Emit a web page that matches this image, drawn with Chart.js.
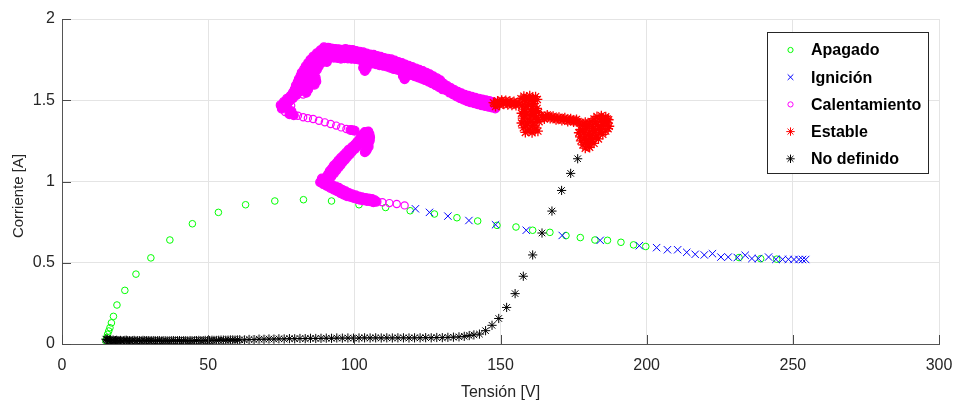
<!DOCTYPE html>
<html>
<head>
<meta charset="utf-8">
<script src="https://cdn.jsdelivr.net/npm/chart.js@4.4.1/dist/chart.umd.min.js"></script>
<style>
  html, body { margin: 0; padding: 0; background: #ffffff; }
  canvas { display: block; }
</style>
</head>
<body>
<canvas id="c" width="955" height="403"></canvas>
<script>
// Axis ticks
const xTickValues = [0, 50, 100, 150, 200, 250, 300];
const yTickValues = [0, 0.5, 1, 1.5, 2];

// Series: [tension V, corriente A]
const apagado = [
  [15.0,0.020],[15.3,0.040],[15.6,0.060],[16.0,0.080],[16.4,0.100],[16.9,0.130],[17.6,0.170],
  [18.8,0.240],[21.5,0.330],[25.3,0.430],[30.4,0.530],[36.9,0.640],[44.6,0.740],[53.5,0.810],
  [62.8,0.857],[72.8,0.880],[82.6,0.888],[92.2,0.880],[101.6,0.857],[110.7,0.840],[119.1,0.820],
  [127.4,0.800],[135.1,0.777],[142.2,0.757],[148.8,0.730],[155.3,0.720],[161.0,0.700],[166.9,0.687],
  [172.4,0.667],[177.3,0.655],[182.3,0.640],[186.6,0.638],[191.2,0.626],[195.5,0.610],[199.7,0.600],
  [231.6,0.532],[239.0,0.525],[244.5,0.522]
];

const ignicion = [
  [120.9,0.832],[125.7,0.810],[132.0,0.787],[139.2,0.760],[148.3,0.734],[158.8,0.700],[171.1,0.668],
  [184.1,0.638],[197.5,0.605],[203.4,0.593],[207.1,0.580],[210.6,0.580],[213.7,0.564],[216.6,0.552],
  [219.7,0.548],[222.5,0.556],[225.4,0.535],[227.9,0.535],[231.0,0.532],[233.7,0.546],[236.0,0.526],
  [238.2,0.526],[241.7,0.535],[244.2,0.521],[246.5,0.521],[248.5,0.521],[250.4,0.520],[252.1,0.520],
  [253.3,0.520],[254.4,0.520]
];

const calentamiento = [
  // descending branch, low current
  [117.2,0.853],[114.5,0.862],[112.0,0.867],[109.6,0.872],[107.6,0.876],
  [107.0,0.884],[106.5,0.872],[106.0,0.893],[105.4,0.878],[104.9,0.896],[104.3,0.880],[103.8,0.899],
  [103.2,0.884],[102.6,0.903],[102.1,0.887],[101.5,0.908],[100.9,0.893],[100.4,0.915],[99.8,0.898],
  [99.2,0.921],[98.7,0.905],[98.1,0.930],[97.5,0.910],[97.0,0.940],[96.4,0.918],[95.8,0.950],
  [95.3,0.928],[94.7,0.962],[94.1,0.940],[93.6,0.970],[93.0,0.950],[92.4,0.978],[91.8,0.960],
  [91.2,0.988],[90.6,0.972],[90.0,0.997],[89.4,0.983],[88.8,1.005],[88.3,0.995],[88.9,1.018],[89.6,1.010],
  // rising segment
  [90.2,1.025],[92.1,1.030],[91.0,1.045],[93.0,1.050],[91.6,1.065],[93.8,1.068],[92.4,1.082],
  [94.6,1.086],[93.0,1.098],[95.3,1.102],[93.9,1.114],[96.0,1.118],[94.6,1.130],[96.8,1.134],
  [95.4,1.146],[97.5,1.150],[96.3,1.162],[98.4,1.166],[97.2,1.178],[99.2,1.184],[98.1,1.196],
  [100.2,1.200],[99.2,1.212],[101.2,1.218],[100.2,1.228],[102.2,1.234],[101.0,1.245],[103.0,1.250],
  [101.8,1.262],[103.6,1.266],[102.4,1.278],[104.1,1.280],[103.0,1.292],[104.5,1.294],[103.6,1.305],
  [104.8,1.308],[105.2,1.290],[105.4,1.272],[105.3,1.252],[104.9,1.234],[104.9,1.214],[104.3,1.196],
  [103.6,1.180],[104.0,1.188],
  // fast jump
  [100.1,1.313],[99.5,1.315],[98.7,1.317],[97.3,1.323],[95.5,1.333],[93.8,1.344],[91.9,1.354],
  [89.9,1.364],[87.9,1.374],[85.9,1.385],[84.1,1.390],[82.5,1.395],[80.7,1.405],
  // upper-left cluster
  [79.3,1.408],[77.8,1.414],[76.3,1.428],[78.5,1.432],[75.2,1.448],[77.2,1.452],[74.8,1.470],
  [76.8,1.474],[78.4,1.466],[75.9,1.490],[77.8,1.494],[77.0,1.510],[79.0,1.512],[78.2,1.528],
  [80.2,1.532],[82.5,1.535],[79.0,1.548],[81.2,1.552],[83.6,1.546],[79.6,1.568],[81.8,1.572],
  [84.2,1.566],[80.0,1.590],[82.2,1.594],[84.8,1.588],[86.4,1.596],[80.6,1.610],[82.8,1.614],
  [85.2,1.608],[87.0,1.616],[81.0,1.630],[83.2,1.634],[85.6,1.628],[86.8,1.638],[81.6,1.650],
  [83.8,1.654],[86.0,1.648],[82.0,1.670],[84.2,1.674],[86.4,1.668],[82.8,1.690],[85.0,1.694],
  [87.2,1.688],[83.4,1.710],[85.6,1.714],[87.8,1.708],[84.2,1.730],[86.4,1.734],[88.6,1.728],
  [90.6,1.735],[85.0,1.750],[87.2,1.754],[89.4,1.748],[91.2,1.756],[86.0,1.770],[88.2,1.774],
  [90.4,1.768],[92.2,1.776],[87.2,1.790],[89.2,1.794],[91.2,1.788],[88.4,1.808],[90.2,1.814],
  [89.6,1.826],[91.2,1.822],
  // upper branch towards steady state
  [91.0,1.823],[91.4,1.795],[91.8,1.767],[92.2,1.818],[92.6,1.792],[93.0,1.762],
  [93.4,1.816],[93.8,1.786],[94.2,1.760],[94.6,1.814],[95.0,1.788],[95.4,1.756],
  [95.8,1.811],[96.2,1.785],[96.6,1.759],[97.0,1.815],[97.4,1.783],[97.8,1.757],
  [98.2,1.811],[98.6,1.787],[99.0,1.755],[99.4,1.810],[99.8,1.780],[100.2,1.754],
  [100.6,1.803],[101.0,1.777],[101.4,1.751],[101.8,1.799],[102.2,1.769],[102.6,1.743],
  [103.0,1.795],[103.4,1.765],[103.8,1.735],[104.2,1.787],[104.6,1.761],[105.0,1.731],
  [103.0,1.700],[103.6,1.680],[104.2,1.695],[103.3,1.720],[104.6,1.716],
  [105.4,1.782],[105.8,1.752],[106.2,1.726],[106.6,1.780],[107.0,1.750],[107.4,1.722],
  [107.8,1.772],[108.2,1.746],[108.6,1.716],[109.0,1.768],[109.4,1.742],[109.8,1.712],
  [110.2,1.760],[110.6,1.734],[111.0,1.708],[111.4,1.756],[111.8,1.726],[112.2,1.700],
  [112.6,1.752],[113.0,1.722],[113.4,1.692],[113.8,1.744],[114.2,1.718],[114.6,1.688],
  [115.0,1.736],[115.4,1.706],[115.8,1.680],[116.2,1.730],[116.6,1.700],[117.0,1.672],
  [116.6,1.650],[117.2,1.630],[117.8,1.645],[117.0,1.665],[118.2,1.662],
  [117.4,1.720],[117.8,1.694],[118.2,1.664],[118.6,1.712],[119.0,1.682],[119.4,1.656],
  [119.8,1.704],[120.2,1.678],[120.6,1.648],[121.0,1.696],[121.4,1.666],[121.8,1.640],
  [122.2,1.688],[122.6,1.662],[123.0,1.632],[123.4,1.680],[123.8,1.650],[124.2,1.624],
  [124.6,1.670],[125.0,1.644],[125.4,1.614],[125.8,1.660],[126.2,1.630],[126.6,1.604],
  [127.0,1.648],[127.4,1.622],[127.8,1.592],[128.2,1.636],[128.6,1.606],[129.0,1.580],
  [129.4,1.623],[129.8,1.597],[130.2,1.567],[130.6,1.601],[131.0,1.579],[131.4,1.561],
  [131.8,1.587],[132.2,1.569],[132.6,1.547],[133.0,1.575],[133.4,1.553],[133.8,1.535],
  [134.2,1.563],[134.6,1.545],[135.0,1.523],[135.4,1.552],[135.8,1.530],[136.2,1.512],
  [136.6,1.543],[137.0,1.525],[137.4,1.503],[137.8,1.534],[138.2,1.512],[138.6,1.494],
  [139.0,1.527],[139.4,1.509],[139.8,1.487],[140.2,1.521],[140.6,1.499],[141.0,1.481],
  [141.4,1.515],[141.8,1.497],[142.2,1.475],[142.6,1.510],[143.0,1.488],[143.4,1.470],
  [143.8,1.505],[144.2,1.487],[144.6,1.465],[145.0,1.500],[145.4,1.478],[145.8,1.460],
  [146.2,1.495],[146.6,1.477],[147.0,1.455],[147.4,1.490],[147.8,1.468],[148.2,1.450]
];

const estable = [
  [147.6,1.485],[148.0,1.478],[148.3,1.462],[149.0,1.495],[149.4,1.482],[149.7,1.470],[150.4,1.500],
  [150.8,1.488],[151.1,1.475],[151.8,1.498],[152.2,1.485],[152.5,1.472],[153.2,1.496],[153.6,1.483],
  [153.9,1.470],[154.6,1.492],[155.0,1.480],[155.3,1.468],[156.0,1.488],[156.4,1.475],
  [157.0,1.510],[158.0,1.525],[158.2,1.505],[159.0,1.518],[159.6,1.508],[160.0,1.528],[161.0,1.512],
  [161.2,1.495],[162.0,1.522],[162.6,1.505],[158.5,1.495],[160.5,1.500],[157.5,1.470],[159.5,1.475],
  [161.5,1.480],[158.8,1.460],[161.0,1.462],[157.8,1.445],[160.2,1.440],[162.5,1.450],[158.4,1.432],
  [160.6,1.428],[162.0,1.438],[157.2,1.420],[159.0,1.415],[161.2,1.418],[163.0,1.425],[158.2,1.402],
  [160.8,1.405],[157.6,1.390],[159.8,1.385],[162.0,1.392],[158.4,1.372],[160.4,1.370],[162.6,1.380],
  [157.2,1.360],[159.3,1.355],[161.5,1.362],[163.2,1.368],[158.6,1.342],[161.0,1.345],[157.8,1.330],
  [160.0,1.322],[162.2,1.330],[159.4,1.312],[161.8,1.318],[158.5,1.302],[160.8,1.300],[162.8,1.310],
  [164.0,1.405],[164.5,1.395],[165.0,1.385],[165.5,1.400],[166.0,1.410],[166.5,1.398],[167.0,1.388],
  [167.5,1.395],[168.0,1.402],[168.5,1.390],[169.0,1.380],[169.5,1.388],[170.0,1.396],[170.5,1.386],
  [171.0,1.375],[171.5,1.384],[172.0,1.392],[172.5,1.380],[173.0,1.370],[173.5,1.378],[174.0,1.386],
  [174.5,1.376],[175.0,1.366],[175.5,1.374],[176.0,1.382],[176.5,1.370],
  [177.0,1.360],[178.0,1.345],[178.5,1.355],[179.0,1.365],[180.0,1.350],[180.5,1.360],[181.0,1.370],
  [182.0,1.385],[182.5,1.365],[183.0,1.400],[184.5,1.405],[184.5,1.385],[186.0,1.398],[186.5,1.385],
  [187.0,1.380],[185.5,1.380],[185.5,1.365],[184.0,1.370],[186.5,1.360],[187.2,1.340],[186.8,1.325],
  [185.0,1.345],[183.5,1.338],[183.0,1.350],[181.5,1.340],[181.5,1.325],[179.5,1.340],[179.5,1.325],
  [177.5,1.320],[178.0,1.312],[176.8,1.300],[178.5,1.300],[180.5,1.305],[182.5,1.315],[184.5,1.320],
  [186.0,1.310],[184.0,1.302],[182.0,1.298],[180.0,1.290],[185.0,1.290],[183.0,1.285],[181.0,1.280],
  [179.0,1.275],[177.2,1.275],[182.6,1.272],[180.6,1.268],[178.6,1.262],[177.5,1.250],[179.5,1.255],
  [181.5,1.258],[183.5,1.262],[182.0,1.235],[181.0,1.245],[179.2,1.240],[180.0,1.230],[178.2,1.225],
  [180.2,1.218],[179.0,1.205],[180.5,1.210]
];

const noDefinido = [
  [15.0,0.030],[15.3,0.025],[15.5,0.028],[15.7,0.020],[16.2,0.022],[16.5,0.025],[16.8,0.020],
  [17.1,0.022],[17.5,0.024],[17.9,0.020],[18.3,0.021],[18.7,0.023],[19.1,0.020],[19.5,0.021],
  [20.0,0.022],[20.5,0.019],[21.0,0.020],[21.5,0.022],[22.0,0.023],[22.5,0.021],[23.1,0.020],
  [23.6,0.019],[24.2,0.021],[24.7,0.022],[25.3,0.019],[25.9,0.021],[26.5,0.020],[27.1,0.019],
  [27.7,0.022],[28.3,0.021],[28.9,0.020],[29.5,0.021],[30.1,0.019],[30.7,0.020],[31.4,0.021],
  [32.0,0.019],[32.7,0.020],[33.3,0.021],[34.0,0.018],[34.6,0.020],[35.3,0.020],[36.0,0.019],
  [36.7,0.019],[37.4,0.020],[38.1,0.021],[38.8,0.019],[39.5,0.020],[40.2,0.021],[40.9,0.018],
  [41.6,0.020],[42.3,0.020],[43.0,0.019],[43.8,0.021],[44.5,0.020],[45.3,0.020],[46.0,0.021],
  [46.8,0.022],[47.5,0.020],[48.3,0.021],[49.0,0.022],[49.8,0.020],[50.5,0.021],[51.3,0.023],
  [52.0,0.022],[52.8,0.022],[53.6,0.023],[54.4,0.024],[55.2,0.024],[56.0,0.023],[56.8,0.024],
  [57.6,0.025],[58.4,0.025],[59.2,0.024],[60.0,0.025],[60.8,0.026],[62.4,0.025],[64.0,0.028],
  [65.7,0.027],[67.4,0.030],[69.1,0.029],[70.8,0.031],[72.5,0.030],[74.2,0.032],[76.0,0.031],
  [77.8,0.033],[79.6,0.032],[81.4,0.034],[83.2,0.033],[85.0,0.035],[86.8,0.034],[88.6,0.035],
  [90.4,0.036],[92.2,0.035],[94.0,0.037],[95.9,0.036],[97.8,0.037],[99.7,0.036],[101.6,0.037],
  [103.5,0.038],[105.4,0.037],[107.3,0.038],[109.2,0.037],[111.1,0.038],[113.0,0.037],[114.9,0.038],
  [116.8,0.038],[118.7,0.037],[120.6,0.038],[122.5,0.038],[124.4,0.039],[126.3,0.038],[128.2,0.040],
  [130.1,0.039],[132.0,0.041],[133.9,0.042],[135.8,0.044],[137.6,0.047],[139.3,0.052],[140.9,0.056],
  [142.8,0.061],[144.9,0.082],[147.1,0.115],[149.4,0.157],[152.1,0.225],[155.0,0.310],[157.8,0.417],
  [161.0,0.548],[164.2,0.683],[167.6,0.818],[170.9,0.945],[174.0,1.050],[176.4,1.140]
];

const seriesLabels = ['Apagado', 'Ignición', 'Calentamiento', 'Estable', 'No definido'];

const FONT = '"Liberation Sans", Arial, Helvetica, sans-serif';
const toXY = pts => pts.map(p => ({ x: p[0], y: p[1] }));

const styles = [
  { color: '#00ff00', pointStyle: 'circle',   radius: 3.3, width: 1,   legendRadius: 2.6 },
  { color: '#0000ff', pointStyle: 'crossRot', radius: 5.2, width: 1,   legendRadius: 4.0 },
  { color: '#ff00ff', pointStyle: 'circle',   radius: 3.6, width: 1.2, legendRadius: 2.6 },
  { color: '#ff0000', pointStyle: 'star',     radius: 5.0, width: 1.3, legendRadius: 4.2 },
  { color: '#000000', pointStyle: 'star',     radius: 4.6, width: 1,   legendRadius: 4.2 }
];

const allSeries = [apagado, ignicion, calentamiento, estable, noDefinido];

// Where samples pile up (less than ~5 px apart on screen) the rings merge into a solid trace.
const pxPerVolt = 878 / 300, pxPerAmp = 325 / 2;
function crowded(pts) {
  return pts.map((p, i) => {
    let n = 0;
    for (let j = 0; j < pts.length; j++) {
      if (j === i) continue;
      const dx = (pts[j][0] - p[0]) * pxPerVolt, dy = (pts[j][1] - p[1]) * pxPerAmp;
      if (dx * dx + dy * dy < 22) n++;
    }
    return n >= 2;
  });
}

const datasets = allSeries.map((pts, i) => {
  const dense = crowded(pts);
  const merge = i === 2;
  const solid = c => merge && dense[c.dataIndex];
  return {
    label: seriesLabels[i],
    data: toXY(pts),
    showLine: false,
    pointStyle: styles[i].pointStyle,
    pointRadius: c => solid(c) ? 4.4 : styles[i].radius,
    pointHoverRadius: styles[i].radius,
    pointBorderWidth: styles[i].width,
    pointBorderColor: styles[i].color,
    pointBackgroundColor: c => solid(c) ? styles[i].color : 'rgba(0,0,0,0)',
    // later series are painted on top
    order: allSeries.length - i
  };
});

// inward tick marks, y title and boxed legend
const axesDecor = {
  id: 'axesDecor',
  afterDraw(chart) {
    const { ctx, chartArea: a, scales: { x, y } } = chart;
    ctx.save();
    ctx.strokeStyle = '#4a4a4a';
    ctx.lineWidth = 1;
    ctx.beginPath();
    xTickValues.forEach(v => {
      const px = Math.round(x.getPixelForValue(v)) + 0.5;
      ctx.moveTo(px, a.bottom);
      ctx.lineTo(px, a.bottom - 9);
    });
    yTickValues.forEach(v => {
      const py = Math.round(y.getPixelForValue(v)) + 0.5;
      ctx.moveTo(a.left, py);
      ctx.lineTo(a.left + 9, py);
    });
    ctx.stroke();

    // y axis title
    ctx.save();
    ctx.translate(19, 196);
    ctx.rotate(-Math.PI / 2);
    ctx.font = '15px ' + FONT;
    ctx.fillStyle = '#262626';
    ctx.textAlign = 'center';
    ctx.textBaseline = 'middle';
    ctx.fillText('Corriente [A]', 0, 0);
    ctx.restore();

    // legend box
    const box = { left: 767.5, top: 32.5, right: 928.5, bottom: 173.5 };
    ctx.fillStyle = '#ffffff';
    ctx.fillRect(box.left, box.top, box.right - box.left, box.bottom - box.top);
    ctx.strokeStyle = '#262626';
    ctx.lineWidth = 1;
    ctx.strokeRect(box.left, box.top, box.right - box.left, box.bottom - box.top);

    ctx.font = 'bold 16px ' + FONT;
    ctx.textAlign = 'left';
    ctx.textBaseline = 'middle';
    chart.data.datasets.forEach((ds, i) => {
      const rowY = 50 + i * 27.2;
      ctx.strokeStyle = styles[i].color;
      ctx.fillStyle = 'rgba(0,0,0,0)';
      ctx.lineWidth = 1;
      Chart.helpers.drawPoint(ctx, {
        pointStyle: styles[i].pointStyle,
        radius: styles[i].legendRadius,
        borderWidth: 1,
        rotation: 0
      }, 790.5, rowY);
      ctx.fillStyle = '#000000';
      ctx.fillText(ds.label, 811, rowY + 1);
    });
    ctx.restore();
  }
};

new Chart(document.getElementById('c'), {
  type: 'scatter',
  data: { datasets },
  options: {
    responsive: false,
    devicePixelRatio: 1,
    animation: false,
    events: [],
    layout: { padding: { top: 19, right: 16, left: 0, bottom: 0 } },
    plugins: { legend: { display: false }, tooltip: { enabled: false } },
    scales: {
      x: {
        type: 'linear',
        min: 0,
        max: 300,
        afterBuildTicks: s => { s.ticks = xTickValues.map(v => ({ value: v })); },
        afterFit: s => { s.height = 59; s.paddingLeft = 0; s.paddingRight = 0; },
        ticks: { color: '#262626', font: { family: FONT, size: 16 }, padding: 12, maxRotation: 0 },
        grid: { color: '#e4e4e4', lineWidth: 1, drawTicks: false },
        border: { color: '#555555', width: 1 },
        title: { display: true, text: 'Tensión [V]', color: '#262626',
                 font: { family: FONT, size: 16 }, padding: { top: 0, bottom: 1 } }
      },
      y: {
        type: 'linear',
        min: 0,
        max: 2,
        afterBuildTicks: s => { s.ticks = yTickValues.map(v => ({ value: v })); },
        afterFit: s => { s.width = 62; s.paddingTop = 0; s.paddingBottom = 0; },
        ticks: { color: '#262626', font: { family: FONT, size: 16 }, padding: 7,
                 callback: v => String(v) },
        grid: { color: '#e4e4e4', lineWidth: 1, drawTicks: false },
        border: { color: '#555555', width: 1 }
      }
    }
  },
  plugins: [axesDecor]
});
</script>
</body>
</html>
